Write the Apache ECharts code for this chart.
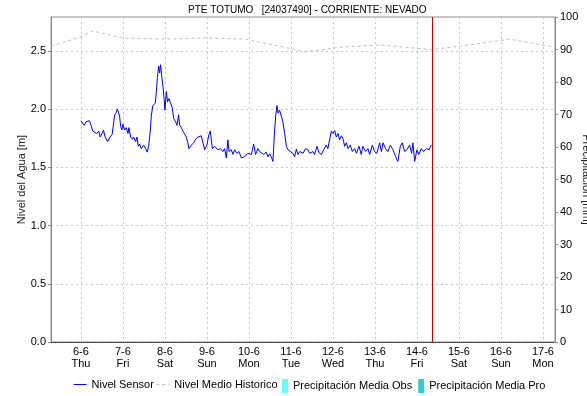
<!DOCTYPE html>
<html>
<head>
<meta charset="utf-8">
<script src="https://cdn.jsdelivr.net/npm/echarts@6/dist/echarts.min.js"></script>
<style>
  html, body { margin: 0; padding: 0; background: #fff; }
  #chart { width: 587px; height: 396px; }
</style>
</head>
<body>
<div id="chart"></div>
<script>
// Station water level, hours counted from 2024-06-06 00:00 (local time)
const sensorHours = [0, 1.9, 2.9, 4.9, 5.8, 6.8, 7.8, 9.1, 10.2, 11, 12.1, 12.9, 13.8, 15.3, 16.7, 17.8,
  18.7, 19.3, 20.2, 20.8, 21.5, 22.1, 22.7, 23.4, 24, 25, 25.9, 26.9, 27.4, 28.4, 29.4, 30.1, 31.3, 32,
  32.8, 33.5, 34.5, 35.8, 37, 37.9, 38.7, 39.7, 40.2, 41.1, 42.5, 43.1, 43.7, 44.4, 45, 45.5, 46.1,
  46.9, 47.4, 48, 48.8, 49.5, 50.3, 51.3, 52.2, 53, 54.1, 54.9, 55.8, 56.4, 57.4, 58.3, 59.3, 60.2,
  61.1, 61.7, 63.1, 64.4, 65.5, 66.9, 68.8, 69.7, 70.7, 72, 73.1, 73.9, 75.1, 76.4, 78.3, 79.7, 81.1,
  82.1, 83.1, 84, 84.6, 85.9, 86.9, 87.8, 89.1, 90.3, 91.7, 93.5, 95.4, 97.4, 98.7, 99.8, 101.1,
  102.1, 103.1, 104.4, 105.9, 106.9, 107.8, 108.8, 109.7, 110.7, 111.3, 112, 112.6, 113.5, 114.5,
  115.4, 116.4, 117.4, 118.3, 119.7, 121.1, 122.1, 123.1, 124, 125, 126.9, 128.4, 129.7, 130.7,
  132.6, 133.5, 134.9, 136, 137.4, 138.7, 140.2, 141.1, 142.1, 143.1, 144, 145, 145.9, 146.9, 147.8,
  148.8, 149.7, 150.7, 151.7, 152.6, 153.9, 155.1, 156.4, 157.4, 158.9, 160.2, 161.1, 162.7, 164,
  165, 166.5, 167.8, 169.1, 170.7, 171.7, 172.6, 174.1, 175.4, 176.8, 178.3, 179.8, 181.1, 182.5,
  183.6, 185, 186.3, 187.8, 189, 189.7, 190.7, 192, 193.1, 194.5, 195.8, 197.4, 198.9, 200.2];
const sensorLevel = [1.90, 1.86, 1.89, 1.90, 1.86, 1.81, 1.82, 1.79, 1.81, 1.76, 1.79, 1.82, 1.76, 1.72, 1.76, 1.78,
  1.88, 1.95, 1.97, 2.00, 1.97, 1.94, 1.85, 1.82, 1.87, 1.82, 1.84, 1.79, 1.84, 1.76, 1.74, 1.76, 1.72, 1.76,
  1.68, 1.70, 1.66, 1.69, 1.66, 1.63, 1.68, 1.82, 1.94, 2.03, 2.05, 2.15, 2.27, 2.37, 2.31, 2.38, 2.29,
  2.19, 2.11, 1.99, 2.15, 2.06, 2.09, 2.08, 2.01, 1.92, 1.89, 1.86, 1.95, 1.86, 1.84, 1.81, 1.82, 1.76,
  1.71, 1.66, 1.69, 1.71, 1.74, 1.76, 1.77, 1.76, 1.65, 1.69, 1.78, 1.81, 1.66, 1.68, 1.65, 1.66, 1.635,
  1.66, 1.58, 1.735, 1.635, 1.65, 1.61, 1.65, 1.62, 1.635, 1.58, 1.59, 1.62, 1.61, 1.70, 1.61, 1.66,
  1.635, 1.65, 1.61, 1.63, 1.59, 1.615, 1.59, 1.55, 1.82, 1.94, 2.03, 1.965, 1.99, 1.94,
  1.89, 1.79, 1.68, 1.65, 1.635, 1.62, 1.59, 1.655, 1.61, 1.635, 1.62, 1.66, 1.65, 1.62,
  1.635, 1.61, 1.68, 1.625, 1.61, 1.65, 1.69, 1.66, 1.735, 1.81, 1.79, 1.815, 1.76, 1.79, 1.735,
  1.77, 1.75, 1.68, 1.71, 1.66, 1.69, 1.635, 1.66, 1.62, 1.68, 1.61, 1.68, 1.635, 1.66,
  1.61, 1.69, 1.635, 1.62, 1.71, 1.635, 1.71, 1.66, 1.635, 1.69, 1.65, 1.59, 1.55, 1.68,
  1.71, 1.635, 1.65, 1.69, 1.62, 1.71, 1.55, 1.65, 1.61, 1.66, 1.635, 1.66, 1.65, 1.69];

// Historical mean level
const historicHours = [-17.1, 0, 6.7, 23.8, 47.8, 70.7, 93.6, 116.5, 128, 147.8, 170.7, 200.4, 222, 245, 270.9];
const historicLevel = [2.54, 2.62, 2.67, 2.61, 2.60, 2.61, 2.60, 2.53, 2.49, 2.53, 2.55, 2.51, 2.55, 2.60, 2.53];

// Mean precipitation (observed / forecast), mm
const precipObs = [];
const precipPro = [];

const dayNames = ['Sun', 'Mon', 'Tue', 'Wed', 'Thu', 'Fri', 'Sat'];
const HOUR = 3600 * 1000;
const origin = new Date(2024, 5, 6, 0, 0, 0).getTime();
const rangeStartHour = -17.1;
const rangeEndHour = 270.9;
const nowHour = 200.8;

const toTime = h => origin + h * HOUR;
const sensorData = sensorHours.map((h, i) => [toTime(h), sensorLevel[i]]);
const historicData = historicHours.map((h, i) => [toTime(h), historicLevel[i]]);

const FONT = 'Liberation Sans, Arial, sans-serif';
const chart = echarts.init(document.getElementById('chart'), null, { renderer: 'canvas' });

const timeMin = toTime(rangeStartHour);
const timeMax = toTime(rangeEndHour);

chart.setOption({
  animation: false,
  backgroundColor: '#ffffff',
  title: {
    text: 'PTE TOTUMO   [24037490] - CORRIENTE: NEVADO',
    left: 183,
    top: 0,
    textStyle: { fontFamily: FONT, fontSize: 10, fontWeight: 'normal', color: '#000' }
  },
  legend: [
    {
      left: 68, top: 374,
      itemWidth: 13, itemHeight: 2, itemGap: 2,
      lineStyle: { width: 1 },
      textStyle: { fontFamily: FONT, fontSize: 11, color: '#000' },
      data: ['Nivel Sensor', 'Nivel Medio Historico']
    },
    {
      left: 277, top: 374,
      itemWidth: 6, itemHeight: 14, itemGap: 6,
      textStyle: { fontFamily: FONT, fontSize: 11, color: '#000' },
      data: [
        { name: 'Precipitación Media Obs', icon: 'rect' },
        { name: 'Precipitación Media Pro', icon: 'rect' }
      ]
    }
  ],
  grid: {
    left: 51, right: 32, top: 17, bottom: 54,
    outerBoundsMode: 'none',
    containLabel: false,
    show: true, borderColor: '#8c8c8c', borderWidth: 1
  },
  xAxis: [
    {
      type: 'time',
      min: timeMin,
      max: timeMax,
      splitNumber: 12,
      axisLine: { show: true, lineStyle: { color: '#333', type: [1, 1] } },
      axisTick: { show: false },
      splitLine: { show: true, lineStyle: { color: '#c8c8c8', type: [2, 3] } },
      axisLabel: {
        fontFamily: FONT, fontSize: 11, color: '#000', lineHeight: 12, margin: 4,
        showMinLabel: false, showMaxLabel: false,
        formatter: v => {
          const d = new Date(v);
          return d.getDate() + '-' + (d.getMonth() + 1) + '\n' + dayNames[d.getDay()];
        }
      }
    },
    {
      // carries the precipitation bars over the same time span
      type: 'time',
      min: timeMin,
      max: timeMax,
      show: false
    }
  ],
  yAxis: [
    {
      type: 'value',
      name: 'Nivel del Agua [m]',
      nameLocation: 'middle', nameGap: 24, nameRotate: 90,
      nameMoveOverlap: false,
      nameTextStyle: { fontFamily: FONT, fontSize: 11, color: '#222' },
      min: 0, max: 2.79, interval: 0.5,
      axisLine: { show: true, lineStyle: { color: '#8c8c8c' } },
      axisTick: { show: true, length: 3, lineStyle: { color: '#8c8c8c' } },
      splitLine: { show: true, lineStyle: { color: '#c8c8c8', type: [2, 3] } },
      axisLabel: {
        fontFamily: FONT, fontSize: 11, color: '#000', margin: 5, showMaxLabel: false,
        formatter: v => v.toFixed(1)
      }
    },
    {
      type: 'value',
      name: 'Precipitación [mm]',
      nameLocation: 'middle', nameGap: 26, nameRotate: -90,
      nameMoveOverlap: false,
      nameTextStyle: { fontFamily: FONT, fontSize: 11, color: '#222' },
      min: 0, max: 100, interval: 10,
      position: 'right',
      axisLine: { show: true, lineStyle: { color: '#8c8c8c' } },
      axisTick: { show: true, length: 3, lineStyle: { color: '#8c8c8c' } },
      splitLine: { show: false },
      axisLabel: { fontFamily: FONT, fontSize: 11, color: '#000', margin: 5 }
    }
  ],
  series: [
    {
      name: 'Nivel Sensor',
      type: 'line',
      xAxisIndex: 0,
      yAxisIndex: 0,
      data: sensorData,
      showSymbol: false,
      symbol: 'none',
      lineStyle: { color: '#0000ff', width: 1 },
      itemStyle: { color: '#0000ff' },
      z: 5,
      markLine: {
        silent: true,
        symbol: 'none',
        label: { show: false },
        lineStyle: { color: '#cc0000', width: 1, type: 'solid' },
        data: [{ xAxis: toTime(nowHour) }]
      }
    },
    {
      name: 'Nivel Medio Historico',
      type: 'line',
      xAxisIndex: 0,
      yAxisIndex: 0,
      data: historicData,
      showSymbol: false,
      symbol: 'none',
      lineStyle: { color: '#c0c0c0', width: 1, type: [3, 3] },
      itemStyle: { color: '#c0c0c0' },
      z: 4
    },
    {
      name: 'Precipitación Media Obs',
      type: 'bar',
      xAxisIndex: 1,
      yAxisIndex: 1,
      data: precipObs,
      itemStyle: { color: '#66ffff' }
    },
    {
      name: 'Precipitación Media Pro',
      type: 'bar',
      xAxisIndex: 1,
      yAxisIndex: 1,
      data: precipPro,
      itemStyle: { color: '#33cccc' }
    }
  ]
});
</script>
</body>
</html>
